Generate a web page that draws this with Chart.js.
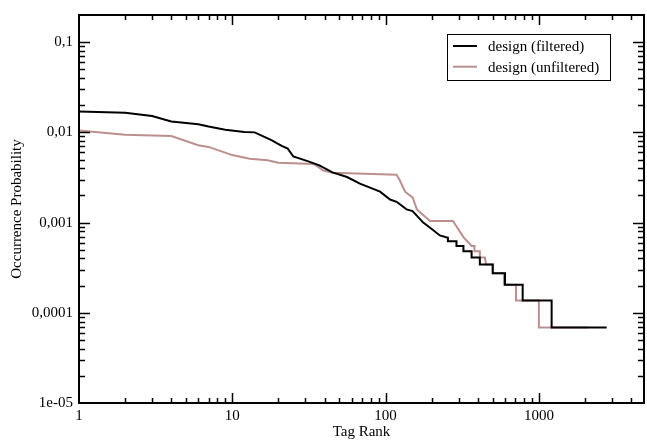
<!DOCTYPE html>
<html>
<head>
<meta charset="utf-8">
<script src="https://cdn.jsdelivr.net/npm/chart.js@4/dist/chart.umd.min.js"></script>
<style>
  body { margin: 0; background: #fff; }
  #wrap { width: 647px; height: 445px; }
</style>
</head>
<body>
<div id="wrap"><canvas id="rankChart" width="647" height="445"></canvas></div>
<script>
// tag rank vs. occurrence probability
const filteredRank = [1, 2, 3, 4, 6, 7, 9, 12, 14, 18, 21, 23, 25, 31, 37, 45, 56, 68, 92, 107, 118, 137, 150, 176, 200, 226,
    255, 255, 290, 290, 322, 322, 364, 364, 412, 412, 500, 500, 601, 601, 784, 784, 1211, 1211, 2770];
const filteredProb = [0.0170, 0.0165, 0.0152, 0.0132, 0.0123, 0.0116, 0.0107, 0.0101, 0.0100, 0.0082, 0.0071, 0.0066, 0.0054,
    0.0048, 0.0043, 0.0036, 0.0032, 0.0027, 0.0022, 0.0018, 0.0017, 0.0014, 0.00134, 0.00100, 0.00085, 0.00072,
    0.00068, 0.00062, 0.00062, 0.00055, 0.00055, 0.00048, 0.00048, 0.00041, 0.00041, 0.000342, 0.000342,
    0.000274, 0.000274, 0.000205, 0.000205, 0.000137, 0.000137, 0.0000685, 0.0000685];

const unfilteredRank = [1, 2, 4, 6, 7, 10, 13, 17, 20, 34, 36, 39, 45, 118, 123, 134, 150, 160, 195, 275, 322, 364, 380, 380,
    412, 412, 445, 452, 500, 500, 592, 592, 709, 709, 1000, 1000, 2100];
const unfilteredProb = [0.0105, 0.0094, 0.0091, 0.0072, 0.0069, 0.0056, 0.0051, 0.0049, 0.0046, 0.00445, 0.0042, 0.0038,
    0.00356, 0.0034, 0.0030, 0.0022, 0.0019, 0.0014, 0.00104, 0.00104, 0.00069, 0.00055, 0.00055, 0.00048,
    0.00048, 0.00041, 0.00041, 0.000342, 0.000342, 0.000274, 0.000274, 0.000205, 0.000205, 0.000137, 0.000137,
    0.0000685, 0.0000685];

const xTickValues = [1, 10, 100, 1000];
const xTickLabels = ['1', '10', '100', '1000'];
const yTickValues = [1e-5, 1e-4, 1e-3, 1e-2, 1e-1];
const yTickLabels = ['1e-05', '0,0001', '0,001', '0,01', '0,1'];

const FONT = 'Liberation Serif';

function toPoints(xs, ys) {
    return xs.map((x, i) => ({ x: x, y: ys[i] }));
}

// 1..9 x 10^k between min and max
function logTicks(min, max) {
    const out = [];
    for (let e = Math.floor(Math.log10(min)); e <= Math.ceil(Math.log10(max)); e++) {
        for (let d = 1; d <= 9; d++) {
            const v = d * Math.pow(10, e);
            if (v >= min * 0.999999 && v <= max * 1.000001) out.push({ value: v });
        }
    }
    return out;
}

function labelFor(values, labels, v) {
    const i = values.findIndex(t => Math.abs(v / t - 1) < 1e-6);
    return i >= 0 ? labels[i] : '';
}

function isDecade(v) {
    const l = Math.log10(v);
    return Math.abs(l - Math.round(l)) < 1e-6;
}

// frame with inward tick marks on all four sides
const framePlugin = {
    id: 'frame',
    afterDraw(chart) {
        const { ctx, chartArea: a, scales: { x, y } } = chart;
        ctx.save();
        ctx.strokeStyle = '#000';
        ctx.lineWidth = 1.5;
        ctx.beginPath();
        x.ticks.forEach(t => {
            const px = Math.round(x.getPixelForValue(t.value)) + 0.5;
            if (px < a.left + 1 || px > a.right - 1) return;
            const len = isDecade(t.value) ? 10 : 5;
            ctx.moveTo(px, a.bottom); ctx.lineTo(px, a.bottom - len);
            ctx.moveTo(px, a.top); ctx.lineTo(px, a.top + len);
        });
        y.ticks.forEach(t => {
            const py = Math.round(y.getPixelForValue(t.value)) + 0.5;
            if (py < a.top + 1 || py > a.bottom - 1) return;
            const len = isDecade(t.value) ? 11 : 6;
            ctx.moveTo(a.left, py); ctx.lineTo(a.left + len, py);
            ctx.moveTo(a.right, py); ctx.lineTo(a.right - len, py);
        });
        ctx.stroke();
        ctx.lineWidth = 2;
        ctx.strokeRect(a.left, a.top, a.right - a.left, a.bottom - a.top);
        ctx.restore();
    }
};

// boxed legend inside the plot, upper right
const boxLegend = {
    id: 'boxLegend',
    afterDraw(chart) {
        const ctx = chart.ctx;
        const bx = 447.5, by = 34.5, bw = 163, bh = 46;
        ctx.save();
        ctx.fillStyle = '#fff';
        ctx.fillRect(bx, by, bw, bh);
        ctx.strokeStyle = '#000';
        ctx.lineWidth = 1;
        ctx.strokeRect(bx, by, bw, bh);
        ctx.font = '15px "' + FONT + '"';
        ctx.textBaseline = 'middle';
        chart.data.datasets.forEach((ds, i) => {
            const ry = 46 + i * 20.7;
            ctx.strokeStyle = ds.borderColor;
            ctx.lineWidth = 2;
            ctx.beginPath();
            ctx.moveTo(453, ry);
            ctx.lineTo(477, ry);
            ctx.stroke();
            ctx.fillStyle = '#000';
            ctx.fillText(ds.label, 488, ry + 1);
        });
        ctx.restore();
    }
};

const ctx = document.getElementById('rankChart');

new Chart(ctx, {
    type: 'line',
    data: {
        datasets: [{
            label: 'design (filtered)',
            data: toPoints(filteredRank, filteredProb),
            borderColor: '#000000',
            borderWidth: 2,
            pointRadius: 0,
            fill: false,
            tension: 0
        }, {
            label: 'design (unfiltered)',
            data: toPoints(unfilteredRank, unfilteredProb),
            borderColor: '#bc8f8f',
            borderWidth: 2,
            pointRadius: 0,
            fill: false,
            tension: 0
        }]
    },
    options: {
        responsive: false,
        animation: false,
        events: [],
        layout: { padding: { top: 6, right: 3, left: 0, bottom: 0 } },
        plugins: {
            legend: { display: false },
            tooltip: { enabled: false }
        },
        scales: {
            x: {
                type: 'logarithmic',
                min: 1,
                max: 4850,
                afterBuildTicks: s => { s.ticks = logTicks(1, 4850); },
                afterFit: s => { s.height = 42; },
                grid: { display: false, drawTicks: false },
                border: { display: false },
                ticks: {
                    autoSkip: false,
                    maxRotation: 0,
                    padding: 4,
                    color: '#000',
                    font: { family: FONT, size: 15 },
                    callback: v => labelFor(xTickValues, xTickLabels, v)
                },
                title: {
                    display: true,
                    text: 'Tag Rank',
                    color: '#000',
                    font: { family: FONT, size: 15 },
                    padding: { top: 0, bottom: 4 }
                }
            },
            y: {
                type: 'logarithmic',
                min: 1e-5,
                max: 0.2,
                afterBuildTicks: s => { s.ticks = logTicks(1e-5, 0.2); },
                afterFit: s => { s.width = 79; },
                grid: { display: false, drawTicks: false },
                border: { display: false },
                ticks: {
                    autoSkip: false,
                    padding: 6,
                    color: '#000',
                    font: { family: FONT, size: 15 },
                    callback: v => labelFor(yTickValues, yTickLabels, v)
                },
                title: {
                    display: true,
                    text: 'Occurrence Probability',
                    color: '#000',
                    font: { family: FONT, size: 15 },
                    padding: { top: 8, bottom: 0 }
                }
            }
        }
    },
    plugins: [framePlugin, boxLegend]
});
</script>
</body>
</html>
